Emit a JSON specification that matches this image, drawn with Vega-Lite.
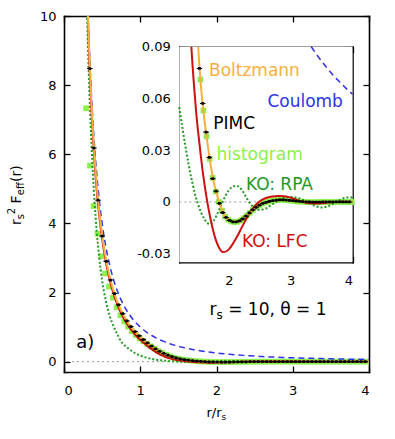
{
"$schema": "https://vega.github.io/schema/vega-lite/v6.json",
"width": 305, "height": 356,
"autosize": {"type": "none"},
"padding": {"left": 64, "top": 16, "right": 26, "bottom": 67},
"config": {"view": {"stroke": null}, "font": "DejaVu Sans",
  "axis": {"domainColor": "black", "domainWidth": 1.6, "domainCap": "square", "tickColor": "black", "tickWidth": 1.3, "tickSize": -6, "labelFont": "DejaVu Sans", "labelFontSize": 13, "labelColor": "black", "grid": false, "title": null}},
"datasets": {
"curves": [
{"x":0.26,"C":14.79,"B":14.6,"L":14.4,"R":15.5},
{"x":0.28,"C":12.76,"B":12.6,"L":12.4,"R":12.6},
{"x":0.30,"C":11.11,"B":11.0,"L":10.8,"R":10.4},
{"x":0.32,"C":9.77,"B":9.62,"L":9.45,"R":8.7},
{"x":0.34,"C":8.65,"B":8.43,"L":8.25,"R":7.4},
{"x":0.36,"C":7.72,"B":7.47,"L":7.3,"R":6.3},
{"x":0.38,"C":6.93,"B":6.65,"L":6.5,"R":5.4},
{"x":0.40,"C":6.25,"B":5.95,"L":5.8,"R":4.65},
{"x":0.43,"C":5.41,"B":5.08,"L":4.95,"R":3.75},
{"x":0.46,"C":4.73,"B":4.39,"L":4.27,"R":3.05},
{"x":0.50,"C":4.0,"B":3.65,"L":3.55,"R":2.35},
{"x":0.55,"C":3.31,"B":2.96,"L":2.87,"R":1.75},
{"x":0.60,"C":2.78,"B":2.45,"L":2.36,"R":1.32},
{"x":0.65,"C":2.37,"B":2.05,"L":1.96,"R":1.02},
{"x":0.70,"C":2.04,"B":1.73,"L":1.65,"R":0.79},
{"x":0.75,"C":1.78,"B":1.48,"L":1.40,"R":0.58},
{"x":0.80,"C":1.5625,"B":1.27,"L":1.19,"R":0.46},
{"x":0.85,"C":1.384,"B":1.09,"L":1.015,"R":0.37},
{"x":0.90,"C":1.235,"B":0.95,"L":0.87,"R":0.29},
{"x":0.95,"C":1.108,"B":0.83,"L":0.74,"R":0.225},
{"x":1.00,"C":1.0,"B":0.72,"L":0.63,"R":0.175},
{"x":1.05,"C":0.907,"B":0.62,"L":0.53,"R":0.135},
{"x":1.10,"C":0.826,"B":0.53,"L":0.44,"R":0.105},
{"x":1.15,"C":0.756,"B":0.446,"L":0.36,"R":0.078},
{"x":1.20,"C":0.694,"B":0.368,"L":0.285,"R":0.055},
{"x":1.25,"C":0.64,"B":0.30,"L":0.22,"R":0.043},
{"x":1.30,"C":0.592,"B":0.24,"L":0.165,"R":0.032},
{"x":1.35,"C":0.549,"B":0.19,"L":0.12,"R":0.022},
{"x":1.395,"C":0.514,"B":0.152,"L":0.09,"R":0.0137},
{"x":1.40,"C":0.510,"B":0.148,"L":0.087,"R":0.013},
{"x":1.45,"C":0.476,"B":0.115,"L":0.062,"R":0.005},
{"x":1.50,"C":0.444,"B":0.0915,"L":0.042,"R":-0.001},
{"x":1.505,"C":0.4415,"B":0.09,"L":0.0405,"R":-0.0015},
{"x":1.55,"C":0.416,"B":0.067,"L":0.026,"R":-0.006},
{"x":1.60,"C":0.391,"B":0.0495,"L":0.012,"R":-0.0095},
{"x":1.65,"C":0.367,"B":0.0355,"L":0.0005,"R":-0.0123},
{"x":1.70,"C":0.346,"B":0.023,"L":-0.009,"R":-0.0128},
{"x":1.75,"C":0.327,"B":0.0125,"L":-0.017,"R":-0.0112},
{"x":1.80,"C":0.309,"B":0.0055,"L":-0.023,"R":-0.008},
{"x":1.85,"C":0.292,"B":-0.001,"L":-0.027,"R":-0.004},
{"x":1.90,"C":0.277,"B":-0.006,"L":-0.029,"R":0.0},
{"x":1.95,"C":0.263,"B":-0.0088,"L":-0.0288,"R":0.0037},
{"x":2.00,"C":0.25,"B":-0.0105,"L":-0.0275,"R":0.0067},
{"x":2.05,"C":0.238,"B":-0.0113,"L":-0.0252,"R":0.0086},
{"x":2.10,"C":0.227,"B":-0.0116,"L":-0.0222,"R":0.0093},
{"x":2.15,"C":0.216,"B":-0.0114,"L":-0.019,"R":0.009},
{"x":2.20,"C":0.207,"B":-0.0106,"L":-0.0155,"R":0.0075},
{"x":2.25,"C":0.198,"B":-0.0092,"L":-0.012,"R":0.0048},
{"x":2.30,"C":0.189,"B":-0.0077,"L":-0.0087,"R":0.0016},
{"x":2.35,"C":0.181,"B":-0.006,"L":-0.0058,"R":-0.0012},
{"x":2.40,"C":0.174,"B":-0.0045,"L":-0.0033,"R":-0.003},
{"x":2.45,"C":0.167,"B":-0.003,"L":-0.0012,"R":-0.0042},
{"x":2.50,"C":0.16,"B":-0.0019,"L":0.0004,"R":-0.0046},
{"x":2.60,"C":0.148,"B":-0.0004,"L":0.0023,"R":-0.0038},
{"x":2.70,"C":0.137,"B":0.0006,"L":0.0032,"R":-0.0015},
{"x":2.80,"C":0.128,"B":0.0011,"L":0.0035,"R":0.0008},
{"x":2.90,"C":0.119,"B":0.0012,"L":0.0033,"R":0.0024},
{"x":3.00,"C":0.111,"B":0.0009,"L":0.0025,"R":0.0029},
{"x":3.10,"C":0.104,"B":0.0005,"L":0.0012,"R":0.0024},
{"x":3.20,"C":0.0977,"B":0.0002,"L":0.0,"R":0.0012},
{"x":3.30,"C":0.0918,"B":0.0,"L":-0.0007,"R":-0.0005},
{"x":3.333,"C":0.09,"B":0.0,"L":-0.0008,"R":-0.0011},
{"x":3.40,"C":0.0865,"B":-0.0001,"L":-0.0009,"R":-0.0024},
{"x":3.50,"C":0.0816,"B":-0.0001,"L":-0.0008,"R":-0.0032},
{"x":3.60,"C":0.0772,"B":0.0,"L":-0.0004,"R":-0.0025},
{"x":3.70,"C":0.073,"B":0.0,"L":-0.0001,"R":-0.0008},
{"x":3.80,"C":0.0693,"B":0.0,"L":0.0001,"R":0.0012},
{"x":3.90,"C":0.0657,"B":0.0,"L":0.0001,"R":0.0025},
{"x":4.00,"C":0.0625,"B":0.0,"L":0.0,"R":0.0026}
],
"pimc": [
{"x":0.339,"y":8.48},{"x":0.393,"y":6.18},{"x":0.447,"y":4.67},{"x":0.501,"y":3.63},{"x":0.555,"y":2.90},
{"x":0.609,"y":2.36},{"x":0.662,"y":1.97},{"x":0.716,"y":1.645},{"x":0.770,"y":1.387},{"x":0.824,"y":1.178},
{"x":0.878,"y":1.01},{"x":0.932,"y":0.871},{"x":0.986,"y":0.747},{"x":1.040,"y":0.638},{"x":1.093,"y":0.54},
{"x":1.147,"y":0.45},{"x":1.201,"y":0.367},{"x":1.255,"y":0.30},{"x":1.309,"y":0.236},{"x":1.363,"y":0.185},
{"x":1.417,"y":0.143},{"x":1.471,"y":0.106},{"x":1.525,"y":0.0774},{"x":1.579,"y":0.0571},{"x":1.633,"y":0.0405},
{"x":1.686,"y":0.0258},{"x":1.740,"y":0.0135},{"x":1.794,"y":0.0062},{"x":1.848,"y":-0.0008},{"x":1.902,"y":-0.0062},
{"x":1.956,"y":-0.009},{"x":2.010,"y":-0.0107},{"x":2.064,"y":-0.0115},{"x":2.118,"y":-0.0116},{"x":2.172,"y":-0.011},
{"x":2.226,"y":-0.0098},{"x":2.280,"y":-0.0082},{"x":2.333,"y":-0.0064},{"x":2.387,"y":-0.0046},{"x":2.441,"y":-0.0031},
{"x":2.495,"y":-0.0019},{"x":2.549,"y":-0.0009},{"x":2.603,"y":-0.0002},{"x":2.657,"y":0.0003},{"x":2.711,"y":0.0007},
{"x":2.765,"y":0.001},{"x":2.819,"y":0.0012},{"x":2.873,"y":0.0012},{"x":2.927,"y":0.0011},{"x":2.981,"y":0.0009},
{"x":3.035,"y":0.0007},{"x":3.089,"y":0.0005},{"x":3.143,"y":0.0003},{"x":3.196,"y":0.0002},{"x":3.250,"y":0.0001},
{"x":3.304,"y":0.0},{"x":3.358,"y":-0.0001},{"x":3.412,"y":-0.0001},{"x":3.466,"y":-0.0001},{"x":3.520,"y":0.0},
{"x":3.573,"y":0.0},{"x":3.627,"y":0.0},{"x":3.681,"y":0.0},{"x":3.735,"y":0.0},{"x":3.789,"y":0.0},
{"x":3.843,"y":0.0},{"x":3.897,"y":0.0},{"x":3.951,"y":0.0}
],
"hist": [
{"x":0.29,"y":7.33},{"x":0.34,"y":5.67},{"x":0.39,"y":4.5},{"x":0.44,"y":3.7},{"x":0.49,"y":3.05},
{"x":0.54,"y":2.55},{"x":0.59,"y":2.17},{"x":0.64,"y":1.85},{"x":0.69,"y":1.57},{"x":0.74,"y":1.34},
{"x":0.79,"y":1.16},{"x":0.84,"y":1.01},{"x":0.89,"y":0.88},{"x":0.94,"y":0.77},{"x":0.99,"y":0.67},
{"x":1.04,"y":0.59},{"x":1.09,"y":0.51},{"x":1.14,"y":0.44},{"x":1.19,"y":0.37},{"x":1.24,"y":0.305},
{"x":1.29,"y":0.248},{"x":1.34,"y":0.197},{"x":1.39,"y":0.153},{"x":1.44,"y":0.118},{"x":1.49,"y":0.09},
{"x":1.54,"y":0.071},{"x":1.59,"y":0.053},{"x":1.64,"y":0.038},{"x":1.69,"y":0.025},{"x":1.74,"y":0.014},
{"x":1.79,"y":0.006},{"x":1.84,"y":0.0},{"x":1.89,"y":-0.005},{"x":1.94,"y":-0.0085},{"x":1.99,"y":-0.0103},
{"x":2.04,"y":-0.0113},{"x":2.09,"y":-0.0117},{"x":2.14,"y":-0.0115},{"x":2.19,"y":-0.0108},{"x":2.24,"y":-0.0095},
{"x":2.29,"y":-0.008},{"x":2.34,"y":-0.0063},{"x":2.39,"y":-0.0047},{"x":2.44,"y":-0.0032},{"x":2.49,"y":-0.002},
{"x":2.54,"y":-0.001},{"x":2.59,"y":-0.0003},{"x":2.64,"y":0.0002},{"x":2.69,"y":0.0006},{"x":2.74,"y":0.0009},
{"x":2.79,"y":0.0011},{"x":2.84,"y":0.0012},{"x":2.89,"y":0.0011},{"x":2.94,"y":0.001},{"x":2.99,"y":0.0008},
{"x":3.04,"y":0.0006},{"x":3.09,"y":0.0004},{"x":3.14,"y":0.0002},{"x":3.19,"y":0.0001},{"x":3.24,"y":0.0},
{"x":3.29,"y":-0.0001},{"x":3.34,"y":-0.0002},{"x":3.39,"y":-0.0002},{"x":3.44,"y":-0.0001},{"x":3.49,"y":0.0},
{"x":3.54,"y":0.0001},{"x":3.59,"y":0.0},{"x":3.64,"y":-0.0001},{"x":3.69,"y":0.0},{"x":3.74,"y":0.0001},
{"x":3.79,"y":0.0},{"x":3.84,"y":-0.0001},{"x":3.89,"y":0.0},{"x":3.94,"y":0.0},{"x":3.99,"y":0.0}
]
},
"layer": [
{
"resolve": {"axis": {"x": "independent", "y": "independent"}},
"layer": [
{"data": {"values": [{}]}, "mark": {"type": "rule", "color": "#999999", "strokeDash": [2, 3], "strokeWidth": 1},
 "encoding": {"y": {"datum": 0, "type": "quantitative", "scale": {"domain": [-0.3, 10], "nice": false, "zero": false}, "axis": null}}},
{"data": {"name": "hist"}, "mark": {"type": "point", "shape": "square", "filled": true, "size": 32, "color": "#8cf04a", "opacity": 1, "clip": true},
 "encoding": {"x": {"field": "x", "type": "quantitative", "scale": {"domain": [0, 4], "nice": false, "zero": false}, "axis": null},
  "y": {"field": "y", "type": "quantitative", "scale": {"domain": [-0.3, 10], "nice": false, "zero": false}, "axis": null}}},
{"data": {"name": "curves"}, "mark": {"type": "line", "color": "#229922", "strokeWidth": 2, "strokeDash": [2, 2], "interpolate": "monotone", "clip": true},
 "encoding": {"x": {"field": "x", "type": "quantitative", "axis": null}, "y": {"field": "R", "type": "quantitative", "axis": null}}},
{"data": {"name": "curves"}, "mark": {"type": "line", "color": "#cc1111", "strokeWidth": 2, "interpolate": "monotone", "clip": true},
 "encoding": {"x": {"field": "x", "type": "quantitative", "axis": null}, "y": {"field": "L", "type": "quantitative", "axis": null}}},
{"data": {"name": "curves"}, "mark": {"type": "line", "color": "#3030e8", "strokeWidth": 1.5, "strokeDash": [6, 4], "interpolate": "monotone", "clip": true},
 "encoding": {"x": {"field": "x", "type": "quantitative", "axis": {"orient": "bottom", "values": [0, 1, 2, 3, 4], "labelPadding": 18}},
  "y": {"field": "C", "type": "quantitative", "axis": {"orient": "left", "values": [0, 2, 4, 6, 8, 10], "labelPadding": 14}}}},
{"data": {"name": "curves"}, "mark": {"type": "line", "color": "#f5b041", "strokeWidth": 2, "interpolate": "monotone", "clip": true},
 "encoding": {"x": {"field": "x", "type": "quantitative", "axis": {"orient": "top", "values": [0, 1, 2, 3, 4], "labels": false}},
  "y": {"field": "B", "type": "quantitative", "axis": {"orient": "right", "values": [0, 2, 4, 6, 8, 10], "labels": false}}}},
{"data": {"name": "pimc"}, "mark": {"type": "point", "shape": "M-1,0H1M-0.3,-0.3H0.3V0.3H-0.3Z", "filled": false, "stroke": "black", "strokeWidth": 1.1, "size": 30, "opacity": 1, "clip": true},
 "encoding": {"x": {"field": "x", "type": "quantitative", "axis": null}, "y": {"field": "y", "type": "quantitative", "axis": null}}},
{"data": {"values": [{}]}, "mark": {"type": "text", "text": "a)", "align": "left", "baseline": "middle", "fontSize": 18, "font": "DejaVu Sans", "color": "black"},
 "encoding": {"x": {"datum": 0.16, "type": "quantitative", "axis": null}, "y": {"datum": 0.53, "type": "quantitative", "axis": null}}},
{"data": {"values": [{}]}, "mark": {"type": "text", "text": "r", "align": "left", "baseline": "middle", "fontSize": 17, "font": "DejaVu Sans", "color": "black"},
 "encoding": {"x": {"datum": 1.908, "type": "quantitative", "axis": null}, "y": {"datum": 1.49, "type": "quantitative", "axis": null}}},
{"data": {"values": [{}]}, "mark": {"type": "text", "text": "s", "align": "left", "baseline": "middle", "fontSize": 12, "font": "DejaVu Sans", "color": "black", "dx": 7, "dy": 5},
 "encoding": {"x": {"datum": 1.908, "type": "quantitative", "axis": null}, "y": {"datum": 1.49, "type": "quantitative", "axis": null}}},
{"data": {"values": [{}]}, "mark": {"type": "text", "text": "= 10, θ = 1", "align": "left", "baseline": "middle", "fontSize": 17, "font": "DejaVu Sans", "color": "black", "dx": 18.7},
 "encoding": {"x": {"datum": 1.908, "type": "quantitative", "axis": null}, "y": {"datum": 1.49, "type": "quantitative", "axis": null}}},
{"data": {"values": [{}]}, "mark": {"type": "text", "text": "r/r", "align": "left", "baseline": "middle", "fontSize": 13, "font": "DejaVu Sans", "color": "black"},
 "encoding": {"x": {"datum": 1.869, "type": "quantitative", "axis": null}, "y": {"datum": -1.48, "type": "quantitative", "axis": null}}},
{"data": {"values": [{}]}, "mark": {"type": "text", "text": "s", "align": "left", "baseline": "middle", "fontSize": 9, "font": "DejaVu Sans", "color": "black", "dx": 15.1, "dy": 4},
 "encoding": {"x": {"datum": 1.869, "type": "quantitative", "axis": null}, "y": {"datum": -1.48, "type": "quantitative", "axis": null}}},
{"data": {"values": [{}]}, "mark": {"type": "text", "text": "r", "align": "left", "baseline": "middle", "fontSize": 14, "font": "DejaVu Sans", "color": "black", "angle": 270},
 "encoding": {"x": {"datum": -0.61, "type": "quantitative", "axis": null}, "y": {"datum": 3.95, "type": "quantitative", "axis": null}}},
{"data": {"values": [{}]}, "mark": {"type": "text", "text": "s", "align": "left", "baseline": "middle", "fontSize": 10, "font": "DejaVu Sans", "color": "black", "angle": 270, "dx": 5.75, "dy": 4},
 "encoding": {"x": {"datum": -0.61, "type": "quantitative", "axis": null}, "y": {"datum": 3.95, "type": "quantitative", "axis": null}}},
{"data": {"values": [{}]}, "mark": {"type": "text", "text": "2", "align": "left", "baseline": "middle", "fontSize": 10, "font": "DejaVu Sans", "color": "black", "angle": 270, "dx": 10.95, "dy": -5},
 "encoding": {"x": {"datum": -0.61, "type": "quantitative", "axis": null}, "y": {"datum": 3.95, "type": "quantitative", "axis": null}}},
{"data": {"values": [{}]}, "mark": {"type": "text", "text": "F", "align": "left", "baseline": "middle", "fontSize": 14, "font": "DejaVu Sans", "color": "black", "angle": 270, "dx": 21.5},
 "encoding": {"x": {"datum": -0.61, "type": "quantitative", "axis": null}, "y": {"datum": 3.95, "type": "quantitative", "axis": null}}},
{"data": {"values": [{}]}, "mark": {"type": "text", "text": "eff", "align": "left", "baseline": "middle", "fontSize": 10, "font": "DejaVu Sans", "color": "black", "angle": 270, "dx": 29.85, "dy": 4},
 "encoding": {"x": {"datum": -0.61, "type": "quantitative", "axis": null}, "y": {"datum": 3.95, "type": "quantitative", "axis": null}}},
{"data": {"values": [{}]}, "mark": {"type": "text", "text": "(r)", "align": "left", "baseline": "middle", "fontSize": 14, "font": "DejaVu Sans", "color": "black", "angle": 270, "dx": 43.05},
 "encoding": {"x": {"datum": -0.61, "type": "quantitative", "axis": null}, "y": {"datum": 3.95, "type": "quantitative", "axis": null}}}
]
},
{
"resolve": {"axis": {"x": "independent", "y": "independent"}},
"layer": [
{"data": {"values": [{}]}, "mark": {"type": "rect", "fill": "white"},
 "encoding": {"x": {"datum": 1.2, "type": "quantitative", "scale": {"domain": [1.2, 4], "range": [115.3, 288.5], "nice": false, "zero": false}, "axis": null}, "x2": {"datum": 4},
  "y": {"datum": -0.035, "type": "quantitative", "scale": {"domain": [-0.035, 0.09], "range": [246.3, 30.7], "nice": false, "zero": false}, "axis": null}, "y2": {"datum": 0.09}}},
{"data": {"values": [{}]}, "mark": {"type": "rule", "color": "#999999", "strokeDash": [2, 3], "strokeWidth": 1},
 "encoding": {"x": {"datum": 1.2, "type": "quantitative", "axis": null}, "x2": {"datum": 4}, "y": {"datum": 0, "type": "quantitative", "axis": null}}},
{"data": {"name": "hist"}, "transform": [{"filter": "datum.x >= 1.2 && datum.y <= 0.086"}], "mark": {"type": "point", "shape": "square", "filled": true, "size": 32, "color": "#8cf04a", "opacity": 1},
 "encoding": {"x": {"field": "x", "type": "quantitative", "axis": null}, "y": {"field": "y", "type": "quantitative", "axis": null}}},
{"data": {"name": "curves"}, "transform": [{"filter": "datum.x >= 1.2 && datum.R <= 0.0901"}], "mark": {"type": "line", "color": "#229922", "strokeWidth": 2, "strokeDash": [2, 2], "interpolate": "monotone"},
 "encoding": {"x": {"field": "x", "type": "quantitative", "axis": null}, "y": {"field": "R", "type": "quantitative", "axis": null}}},
{"data": {"name": "curves"}, "transform": [{"filter": "datum.x >= 1.2 && datum.L <= 0.0901"}], "mark": {"type": "line", "color": "#cc1111", "strokeWidth": 2, "interpolate": "monotone"},
 "encoding": {"x": {"field": "x", "type": "quantitative", "axis": null}, "y": {"field": "L", "type": "quantitative", "axis": null}}},
{"data": {"name": "curves"}, "transform": [{"filter": "datum.x >= 1.2 && datum.C <= 0.0901"}], "mark": {"type": "line", "color": "#3030e8", "strokeWidth": 1.5, "strokeDash": [6, 4], "interpolate": "monotone"},
 "encoding": {"x": {"field": "x", "type": "quantitative", "axis": {"orient": "bottom", "offset": -109.7, "values": [2, 3, 4], "labelPadding": 18}},
  "y": {"field": "C", "type": "quantitative", "axis": {"orient": "left", "offset": -115.3, "values": [-0.03, 0, 0.03, 0.06, 0.09], "labelPadding": 15, "labelExpr": "datum.value == 0 ? '0' : (datum.value < 0 ? '-' : '') + format(abs(datum.value), '.2f')"}}}},
{"data": {"name": "curves"}, "transform": [{"filter": "datum.x >= 1.2 && datum.B <= 0.0901"}], "mark": {"type": "line", "color": "#f5b041", "strokeWidth": 2, "interpolate": "monotone"},
 "encoding": {"x": {"field": "x", "type": "quantitative", "axis": {"orient": "top", "offset": -30.7, "values": [2, 3, 4], "labels": false}},
  "y": {"field": "B", "type": "quantitative", "axis": {"orient": "right", "offset": -16.5, "values": [-0.03, 0, 0.03, 0.06, 0.09], "labels": false}}}},
{"data": {"name": "pimc"}, "transform": [{"filter": "datum.x >= 1.2 && datum.y <= 0.0905"}], "mark": {"type": "point", "shape": "M-1,0H1M-0.3,-0.3H0.3V0.3H-0.3Z", "filled": false, "stroke": "black", "strokeWidth": 1.1, "size": 30, "opacity": 1},
 "encoding": {"x": {"field": "x", "type": "quantitative", "axis": null}, "y": {"field": "y", "type": "quantitative", "axis": null}}},
{"data": {"values": [{}]}, "mark": {"type": "text", "text": "Boltzmann", "align": "left", "baseline": "middle", "fontSize": 17, "font": "DejaVu Sans", "color": "#f5b041"},
 "encoding": {"x": {"datum": 1.68, "type": "quantitative", "axis": null}, "y": {"datum": 0.076, "type": "quantitative", "axis": null}}},
{"data": {"values": [{}]}, "mark": {"type": "text", "text": "Coulomb", "align": "left", "baseline": "middle", "fontSize": 17, "font": "DejaVu Sans", "color": "#3030e8"},
 "encoding": {"x": {"datum": 2.624, "type": "quantitative", "axis": null}, "y": {"datum": 0.058, "type": "quantitative", "axis": null}}},
{"data": {"values": [{}]}, "mark": {"type": "text", "text": "PIMC", "align": "left", "baseline": "middle", "fontSize": 17, "font": "DejaVu Sans", "color": "black"},
 "encoding": {"x": {"datum": 1.749, "type": "quantitative", "axis": null}, "y": {"datum": 0.0449, "type": "quantitative", "axis": null}}},
{"data": {"values": [{}]}, "mark": {"type": "text", "text": "histogram", "align": "left", "baseline": "middle", "fontSize": 17, "font": "DejaVu Sans", "color": "#8cf04a"},
 "encoding": {"x": {"datum": 1.803, "type": "quantitative", "axis": null}, "y": {"datum": 0.0271, "type": "quantitative", "axis": null}}},
{"data": {"values": [{}]}, "mark": {"type": "text", "text": "KO: RPA", "align": "left", "baseline": "middle", "fontSize": 17, "font": "DejaVu Sans", "color": "#229922"},
 "encoding": {"x": {"datum": 2.277, "type": "quantitative", "axis": null}, "y": {"datum": 0.0101, "type": "quantitative", "axis": null}}},
{"data": {"values": [{}]}, "mark": {"type": "text", "text": "KO: LFC", "align": "left", "baseline": "middle", "fontSize": 17, "font": "DejaVu Sans", "color": "#cc1111"},
 "encoding": {"x": {"datum": 2.213, "type": "quantitative", "axis": null}, "y": {"datum": -0.0232, "type": "quantitative", "axis": null}}}
]
}
],
"resolve": {"scale": {"x": "independent", "y": "independent"}, "axis": {"x": "independent", "y": "independent"}}
}
